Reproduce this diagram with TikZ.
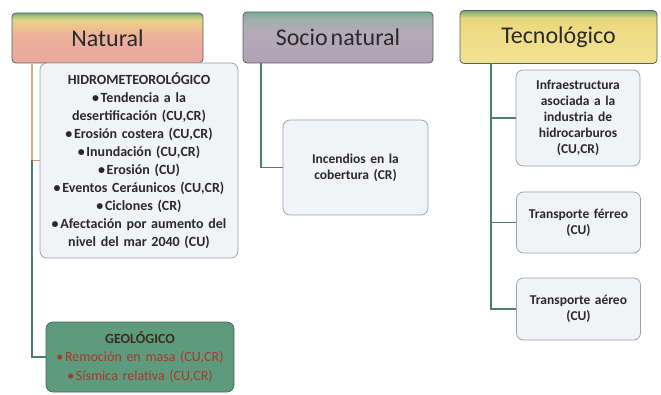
\documentclass[tikz,border=0pt]{standalone}
\usepackage{fontspec}
\setmainfont{Carlito}[WordSpace=0.55]
\definecolor{hdrborder}{HTML}{5A5F5A}
\definecolor{boxborder}{HTML}{9AA0A8}
\definecolor{boxfill}{HTML}{F1F3F6}
\definecolor{linec}{HTML}{4E7F74}
\definecolor{linetop}{HTML}{C9B47E}
\definecolor{linepink}{HTML}{CF9484}
\definecolor{geofill}{HTML}{5E9A7C}
\definecolor{geotitle}{HTML}{3A2E22}
\definecolor{geotext}{HTML}{A8382C}
\definecolor{txt}{HTML}{2A2A2A}
% header shading colours
\definecolor{natA}{HTML}{E9A89E}
\definecolor{natB}{HTML}{ECB09C}
\definecolor{natC}{HTML}{EEC48C}
\definecolor{natD}{HTML}{E4D48A}
\definecolor{natE}{HTML}{AAC47C}
\definecolor{natF}{HTML}{70AA78}
\definecolor{socA}{HTML}{B0A2B5}
\definecolor{socB}{HTML}{B4AAB8}
\definecolor{socC}{HTML}{9EB0A8}
\definecolor{socD}{HTML}{76B094}
\definecolor{tecA}{HTML}{F2E296}
\definecolor{tecB}{HTML}{EEDA80}
\definecolor{tecC}{HTML}{E2D680}
\definecolor{tecD}{HTML}{A0BE78}
\definecolor{tecE}{HTML}{70A474}
\pgfdeclareverticalshading{natshade}{100bp}{%
  color(0bp)=(natA); color(25bp)=(natA); color(52bp)=(natB);
  color(62bp)=(natC); color(68bp)=(natD); color(72bp)=(natE);
  color(75bp)=(natF); color(100bp)=(natF)}
\pgfdeclareverticalshading{socshade}{100bp}{%
  color(0bp)=(socA); color(25bp)=(socA); color(55bp)=(socB);
  color(68bp)=(socC); color(75bp)=(socD); color(100bp)=(socD)}
\pgfdeclareverticalshading{tecshade}{100bp}{%
  color(0bp)=(tecA); color(25bp)=(tecA); color(60bp)=(tecB);
  color(68bp)=(tecC); color(72bp)=(tecD); color(75bp)=(tecE);
  color(100bp)=(tecE)}
\newcommand{\tightsp}{\spaceskip=0.16em\relax}
\newcommand{\bul}{•\kern0.12em}
\begin{document}
\begin{tikzpicture}[x=1pt,y=-1pt,
  hdr/.style={draw=hdrborder,line width=0.8pt,rounded corners=4pt,inner sep=0pt,
    font=\fontsize{24}{26}\selectfont,text=txt},
  leaf/.style={draw=boxborder,line width=0.7pt,fill=boxfill,rounded corners=7pt,inner sep=2pt,
    align=center,font=\bfseries\fontsize{13.5}{16}\selectfont\tightsp,text=txt},
  conn/.style={draw=linec,line width=1.1pt}]
\useasboundingbox (0,0) rectangle (661,395);
% headers
\node[hdr,minimum width=191pt,minimum height=50pt,shading=natshade] (nat) at (107.5,38) {Natural};
\node[hdr,minimum width=190pt,minimum height=51pt,shading=socshade] (soc) at (338,37.5) {Socio natural};
\node[hdr,minimum width=197pt,minimum height=53pt,shading=tecshade] (tec) at (558.5,37) {Tecnológico};
% natural children
\node[leaf,minimum width=198pt,minimum height=195pt,text width=194pt,
  font=\bfseries\fontsize{14}{18}\selectfont\tightsp] (hidro) at (139,160.5)
  {HIDROMETEOROLÓGICO\\
   \bul Tendencia a la\\ desertificación (CU,CR)\\
   \bul Erosión costera (CU,CR)\\
   \bul Inundación (CU,CR)\\
   \bul Erosión (CU)\\
   \bul Eventos Ceráunicos (CU,CR)\\
   \bul Ciclones (CR)\\
   \bul Afectación por aumento del\\ nivel del mar 2040 (CU)};
\node[leaf,draw=geofill!70!black,fill=geofill,minimum width=186pt,minimum height=70pt,
  text width=184pt,text=geotext,font=\fontsize{14}{18.5}\selectfont\tightsp] (geo) at (140,357)
  {\textcolor{geotitle}{\bfseries GEOLÓGICO}\\
   \bul Remoción en masa (CU,CR)\\
   \bul Sísmica relativa (CU,CR)};
% socio natural child
\node[leaf,minimum width=145pt,minimum height=95pt,text width=140pt] (inc) at (355.5,167.5)
  {Incendios en la\\ cobertura (CR)};
% tecnologico children
\node[leaf,minimum width=124pt,minimum height=96pt,text width=120pt] (infra) at (578,118)
  {Infraestructura\\ asociada a la\\ industria de\\ hidrocarburos\\ (CU,CR)};
\node[leaf,minimum width=123pt,minimum height=61pt,text width=120pt] (fer) at (578.5,222.5)
  {Transporte férreo\\ (CU)};
\node[leaf,minimum width=123pt,minimum height=62pt,text width=120pt] (aer) at (578.5,309)
  {Transporte aéreo\\ (CU)};
% connectors
\coordinate (n0) at (32,63);
\coordinate (n1) at (n0 |- hidro.west);
\draw[conn,draw=linetop] (n0) -- (n1);
\draw[conn,draw=linepink] (n1) -- (hidro.west);
\draw[conn] (n1) |- (geo.west);
\coordinate (s0) at (261,63);
\draw[conn] (s0) |- (inc.west);
\coordinate (t0) at (491,63.5);
\draw[conn] (t0) |- (aer.west);
\draw[conn] (t0 |- infra.west) -- (infra.west);
\draw[conn] (t0 |- fer.west) -- (fer.west);
\end{tikzpicture}
\end{document}
